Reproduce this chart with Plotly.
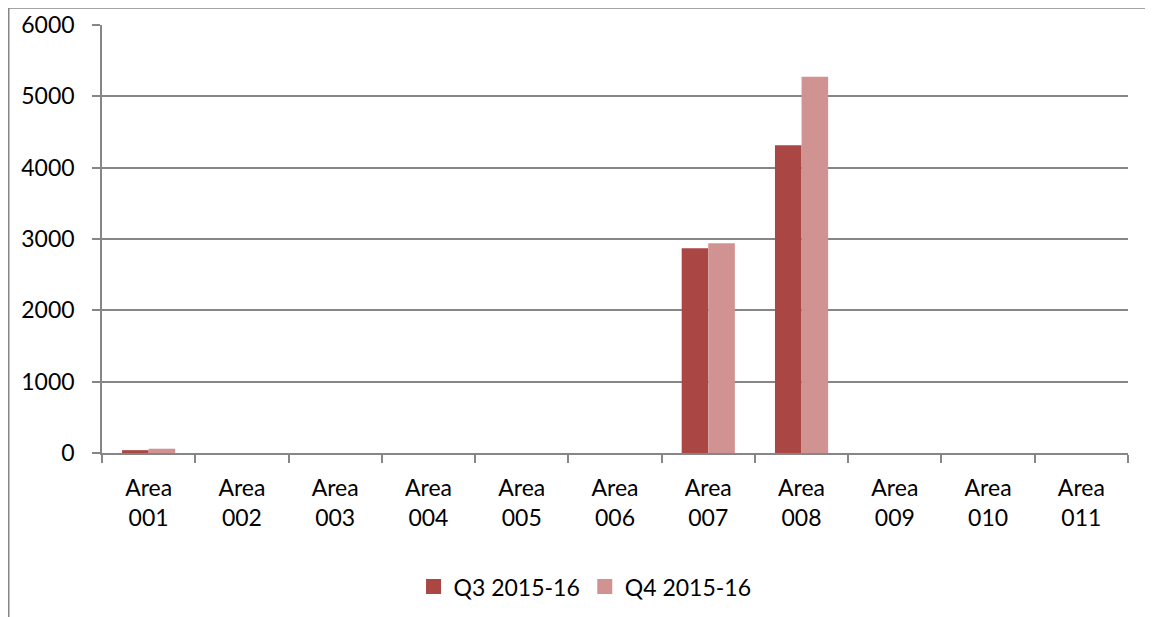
import plotly.graph_objects as go

categories = ["Area<br>001", "Area<br>002", "Area<br>003", "Area<br>004", "Area<br>005",
              "Area<br>006", "Area<br>007", "Area<br>008", "Area<br>009", "Area<br>010", "Area<br>011"]
q3_values = [40, 0, 0, 0, 0, 0, 2870, 4315, 0, 0, 0]
q4_values = [60, 0, 0, 0, 0, 0, 2940, 5275, 0, 0, 0]
series_names = ["Q3 2015-16", "Q4 2015-16"]
series_colors = ["#AA4643", "#D19392"]
y_ticks = [0, 1000, 2000, 3000, 4000, 5000, 6000]

FONT = "Lato"
W, H = 1145, 609
ML, MT, MR, MB = 94, 17, 25, 164
PW, PH = W - ML - MR, H - MT - MB

fig = go.Figure()
for vals, name, col in zip([q3_values, q4_values], series_names, series_colors):
    fig.add_trace(go.Bar(x=categories, y=vals, name=name, showlegend=False,
                         marker=dict(color=col, line=dict(width=0))))
# legend entries with larger square swatches
for name, col in zip(series_names, series_colors):
    fig.add_trace(go.Scatter(x=[None], y=[None], mode="markers", name=name,
                             marker=dict(symbol="square", size=15, color=col)))

fx0 = (0.75 - ML) / PW
fx1 = (W - ML) / PW
fy0 = 1 + (MT - 0.0) / PH
fy1 = -MB / PH
fig.update_layout(
    width=W, height=H,
    margin=dict(l=ML, r=MR, t=MT, b=MB, autoexpand=False),
    paper_bgcolor="white", plot_bgcolor="white",
    barmode="group", bargap=0.43, bargroupgap=0,
    font=dict(family=FONT, size=23, color="black"),
    showlegend=True,
    legend=dict(orientation="h", x=0.4708, xanchor="center", y=-0.262, yanchor="top",
                font=dict(size=23), itemwidth=30, traceorder="normal"),
    xaxis=dict(type="category", showline=True, linecolor="#868686", linewidth=1.5,
               ticks="outside", tickson="boundaries", ticklen=8, tickcolor="#868686",
               tickwidth=1.5, showgrid=False, ticklabelstandoff=14, automargin=False),
    yaxis=dict(range=[0, 6000], tickvals=y_ticks, showline=True, linecolor="#868686",
               linewidth=1.5, ticks="outside", ticklen=8, tickcolor="#868686", tickwidth=1.5,
               showgrid=True, gridcolor="#868686", gridwidth=1.5, zeroline=False,
               ticklabelstandoff=13, automargin=False),
    shapes=[
        dict(type="line", xref="paper", yref="paper", x0=fx0, x1=fx1, y0=fy0, y1=fy0,
             line=dict(color="#868686", width=1.5)),
        dict(type="line", xref="paper", yref="paper", x0=fx0, x1=fx0, y0=fy0, y1=fy1,
             line=dict(color="#868686", width=1.5)),
    ],
)

fig.write_html("out.html")
